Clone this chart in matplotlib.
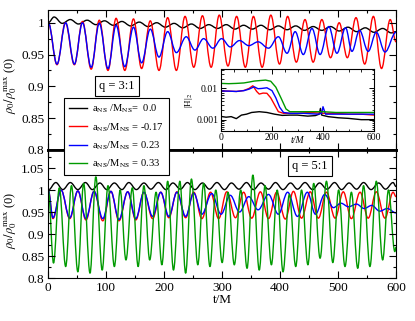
import matplotlib
matplotlib.use("Agg")
import matplotlib.pyplot as plt
from matplotlib.path import Path
from matplotlib.patches import PathPatch
from matplotlib.ticker import MultipleLocator, LogLocator, NullFormatter

plt.rcParams['font.family'] = ['Liberation Serif', 'DejaVu Serif']
plt.rcParams['mathtext.fontset'] = 'stix'

# ---------------- data (extrema of each curve) ----------------
# q = 3:1 panel
top_black_t = [0, 10, 24, 38, 52, 67, 82, 97, 112, 127, 142, 157, 172, 187, 202, 217, 232, 247, 262, 277,
               292, 307, 322, 337, 352, 367, 382, 397, 412, 427, 442, 457, 472, 487, 502, 517, 532, 547, 562, 577, 592, 600]
top_black_v = [1.0, 1.009, 0.999, 1.005, 0.998, 1.004, 0.997, 1.003, 0.996, 1.002, 0.995, 1.001, 0.994, 1.0, 0.993, 0.999,
               0.992, 0.998, 0.991, 0.997, 0.991, 0.997, 0.990, 0.996, 0.990, 0.996, 0.989, 0.995, 0.989, 0.995, 0.988, 0.994,
               0.988, 0.994, 0.987, 0.993, 0.986, 0.992, 0.985, 0.991, 0.984, 0.986]

top_red_t = [0, 15, 29.5, 45, 59, 74, 88, 103, 117, 132, 147, 161, 176, 191, 206, 221, 236, 251, 266, 281, 295, 310,
             325, 340, 354, 369, 384, 399, 413, 428, 443, 457, 472, 487, 502, 516, 531, 546, 561, 575, 590, 600]
top_red_v = [1.0, 0.934, 1.0, 0.934, 1.002, 0.927, 1.004, 0.925, 1.007, 0.925, 1.006, 0.928, 1.003, 0.925, 1.008, 0.925,
             1.010, 0.930, 1.011, 0.930, 1.012, 0.932, 1.010, 0.930, 1.010, 0.930, 1.012, 0.935, 1.010, 0.938, 1.005, 0.938,
             1.005, 0.945, 1.000, 0.945, 1.008, 0.935, 1.010, 0.928, 1.005, 0.970]

top_blue_t = [0, 15, 30, 45, 59, 74, 88, 103, 117, 132, 147, 161, 176, 191, 206, 221, 238, 253, 268, 284, 299, 314,
              330, 346, 362, 380, 397, 412, 426, 440, 455, 469, 484, 498, 513, 524, 537, 552, 566, 581, 600]
top_blue_v = [1.0, 0.935, 1.0, 0.935, 1.0, 0.930, 0.999, 0.928, 0.996, 0.931, 0.993, 0.937, 0.990, 0.946, 0.986, 0.953,
              0.978, 0.957, 0.975, 0.960, 0.975, 0.962, 0.972, 0.964, 0.970, 0.960, 0.978, 0.952, 0.986, 0.950, 0.991,
              0.950, 0.994, 0.952, 0.992, 0.955, 0.988, 0.955, 0.985, 0.954, 0.985]

# q = 5:1 panel
bot_black_t = [0, 13, 25, 38, 51, 64, 76, 89, 101, 114, 127, 139, 152, 165, 177, 190, 203, 215, 228, 240, 253, 266,
               278, 291, 304, 316, 329, 342, 354, 367, 380, 392, 405, 418, 430, 443, 456, 468, 481, 494, 506, 519,
               532, 544, 557, 570, 582, 595, 600]
bot_black_v = [1.0, 1.017, 1.001, 1.017, 1.001, 1.017, 1.001, 1.016, 1.001, 1.016, 1.001, 1.017, 1.001, 1.016, 1.002,
               1.017, 1.001, 1.016, 1.002, 1.017, 1.001, 1.016, 1.002, 1.017, 1.001, 1.016, 1.002, 1.017, 1.001, 1.016,
               1.002, 1.017, 1.001, 1.016, 1.002, 1.017, 1.001, 1.016, 1.002, 1.017, 1.001, 1.016, 1.002, 1.017, 1.001,
               1.016, 1.002, 1.017, 1.008]

bot_red_t = [0, 8, 22, 37, 51, 65, 79, 94, 108, 122, 137, 151, 165, 180, 194, 208, 222, 237, 251, 265, 280, 294, 308,
             323, 337, 351, 366, 380, 394, 409, 423, 437, 452, 466, 480, 495, 509, 523, 538, 552, 566, 581, 595, 600]
bot_red_v = [1.0, 0.935, 1.0, 0.935, 0.998, 0.932, 0.997, 0.930, 0.997, 0.930, 0.996, 0.932, 0.995, 0.935, 0.995, 0.937,
             0.996, 0.937, 0.995, 0.935, 0.995, 0.935, 0.996, 0.937, 0.995, 0.936, 0.996, 0.935, 0.995, 0.934, 0.997,
             0.936, 0.996, 0.936, 0.995, 0.936, 0.996, 0.935, 0.995, 0.936, 0.996, 0.936, 0.995, 0.985]

bot_blue_t = [0, 8, 22, 37, 51, 65, 79, 94, 108, 122, 137, 151, 165, 180, 194, 208, 222, 237, 251, 265, 282, 298, 314,
              330, 346, 362, 380, 397, 413, 430, 447, 461, 477, 492, 505, 518, 532, 545, 558, 572, 585, 600]
bot_blue_v = [1.0, 0.937, 1.0, 0.937, 0.998, 0.935, 0.997, 0.935, 0.997, 0.933, 0.996, 0.935, 0.995, 0.940, 0.995, 0.940,
              0.995, 0.940, 0.993, 0.945, 0.992, 0.945, 0.988, 0.950, 0.985, 0.955, 0.990, 0.945, 0.995, 0.940, 0.995,
              0.945, 0.990, 0.960, 0.970, 0.962, 0.968, 0.958, 0.965, 0.952, 0.958, 0.948]

bot_green_t = [0, 9, 19, 30, 40, 51, 61, 72, 82, 93, 103, 114, 124, 134, 145, 155, 165, 175, 186, 196, 206, 216, 227,
               237, 247, 258, 268, 279, 289, 300, 310, 321, 332, 343, 353, 364, 374, 385, 395, 405, 416, 427, 437, 448,
               458, 469, 480, 491, 501, 512, 523, 534, 544, 555, 566, 577, 587, 598, 600]
bot_green_v = [1.0, 0.834, 1.005, 0.826, 1.010, 0.814, 1.015, 0.811, 1.030, 0.818, 1.010, 0.826, 1.000, 0.841, 1.005,
               0.826, 1.010, 0.841, 0.995, 0.830, 1.020, 0.818, 1.020, 0.811, 1.025, 0.830, 1.015, 0.826, 1.000, 0.835,
               0.995, 0.830, 1.000, 0.822, 1.034, 0.818, 1.010, 0.830, 1.000, 0.814, 0.990, 0.826, 1.000, 0.830, 1.015,
               0.845, 1.020, 0.835, 1.000, 0.826, 0.995, 0.822, 1.010, 0.826, 1.020, 0.841, 1.000, 0.860, 0.870]

# inset: |H|_2 vs t/M (q = 5:1 runs)
ins_t_green = [0, 30, 60, 90, 110, 130, 150, 175, 195, 215, 235, 255, 270, 300, 350, 400, 450, 500, 550, 600]
ins_v_green = [0.0145, 0.0142, 0.0145, 0.0150, 0.0160, 0.0172, 0.0178, 0.0185, 0.0170, 0.0110, 0.0050, 0.0022, 0.0018,
               0.0018, 0.0018, 0.0018, 0.0017, 0.0017, 0.0017, 0.0017]
ins_t_blue = [0, 30, 60, 90, 110, 130, 145, 160, 180, 200, 215, 230, 245, 270, 320, 380, 395, 400, 410, 450, 500, 550, 600]
ins_v_blue = [0.0083, 0.0082, 0.0080, 0.0085, 0.0095, 0.0113, 0.0098, 0.0100, 0.0105, 0.0085, 0.0050, 0.0025, 0.0017,
              0.0016, 0.0016, 0.0015, 0.0016, 0.0026, 0.0015, 0.0015, 0.0015, 0.0015, 0.0015]
ins_t_red = [0, 30, 60, 90, 110, 125, 140, 150, 165, 180, 195, 210, 225, 245, 300, 350, 400, 450, 500, 550, 600]
ins_v_red = [0.0083, 0.0082, 0.0080, 0.0086, 0.0100, 0.0122, 0.0080, 0.0066, 0.0071, 0.0070, 0.0050, 0.0030, 0.0018,
             0.0016, 0.0016, 0.0017, 0.0016, 0.0016, 0.0015, 0.0015, 0.0014]
ins_t_black = [0, 20, 40, 60, 80, 100, 120, 150, 180, 210, 240, 270, 300, 340, 370, 385, 390, 395, 420, 460, 500, 550, 600]
ins_v_black = [0.00127, 0.00120, 0.00125, 0.00108, 0.00140, 0.00150, 0.00170, 0.00180, 0.00170, 0.00150, 0.00137, 0.00140,
               0.00140, 0.00130, 0.00135, 0.00150, 0.00230, 0.00140, 0.00125, 0.00115, 0.00110, 0.00100, 0.00100]

legend_labels = [r'a$_{\rm NS}$ /M$_{\rm NS}$=  0.0', r'a$_{\rm NS}$/M$_{\rm NS}$ = -0.17',
                 r'a$_{\rm NS}$/M$_{\rm NS}$ = 0.23', r'a$_{\rm NS}$/M$_{\rm NS}$ = 0.33']
colors = ['black', '#ff0000', '#0000ff', '#009a00']

# ---------------- figure ----------------
W, H = 415, 321
fig = plt.figure(figsize=(W / 100, H / 100), dpi=100)


def fr(x0, y0, x1, y1):
    return [x0 / W, 1 - y1 / H, (x1 - x0) / W, (y1 - y0) / H]


def smooth(ax, t, v, color, lw):
    """Smooth curve through the read extrema (flat tangents at each extremum)."""
    verts = [(t[0], v[0])]
    codes = [Path.MOVETO]
    for i in range(len(t) - 1):
        dt = t[i + 1] - t[i]
        verts += [(t[i] + 0.3642 * dt, v[i]), (t[i + 1] - 0.3642 * dt, v[i + 1]), (t[i + 1], v[i + 1])]
        codes += [Path.CURVE4] * 3
    ax.add_patch(PathPatch(Path(verts, codes), fill=False, edgecolor=color, lw=lw, capstyle='round',
                           joinstyle='round'))


ax1 = fig.add_axes(fr(48.3, 10, 396, 150))
ax2 = fig.add_axes(fr(48.3, 150, 396, 278))

lw = 1.0
smooth(ax1, top_black_t, top_black_v, colors[0], lw)
smooth(ax1, top_red_t, top_red_v, colors[1], lw)
smooth(ax1, top_blue_t, top_blue_v, colors[2], lw)

smooth(ax2, bot_black_t, bot_black_v, colors[0], lw)
smooth(ax2, bot_red_t, bot_red_v, colors[1], lw)
smooth(ax2, bot_blue_t, bot_blue_v, colors[2], lw)
smooth(ax2, bot_green_t, bot_green_v, colors[3], lw)

ax1.set_xlim(0, 600)
ax2.set_xlim(0, 600)
ax1.set_ylim(0.8, 1.020)
ax2.set_ylim(0.8, 1.091)

for ax in (ax1, ax2):
    ax.xaxis.set_major_locator(MultipleLocator(100))
    ax.xaxis.set_minor_locator(MultipleLocator(50))
    ax.yaxis.set_major_locator(MultipleLocator(0.05))
    ax.yaxis.set_minor_locator(MultipleLocator(0.025))
    ax.tick_params(which='both', direction='in', top=True, right=True, labelsize=9.5, pad=3)
    ax.tick_params(which='major', length=5, width=0.8)
    ax.tick_params(which='minor', length=2.5, width=0.8)

ax1.tick_params(labelbottom=False)
ax1.set_yticks([0.8, 0.85, 0.9, 0.95, 1.0])
ax1.set_yticklabels(['0.8', '0.85', '0.9', '0.95', '1'])
ax2.set_yticks([0.8, 0.85, 0.9, 0.95, 1.0, 1.05])
ax2.set_yticklabels(['0.8', '0.85', '0.9', '0.95', '1', '1.05'])
ax1.spines['bottom'].set_linewidth(2.0)
ax2.spines['top'].set_linewidth(2.0)

ax2.set_xlabel('t/M', fontsize=9.5, labelpad=0)
ylab = r'$\rho_0/\rho_0^{\rm max}$ (0)'
ax1.set_ylabel(ylab, fontsize=9)
ax2.set_ylabel(ylab, fontsize=9)
ax1.yaxis.set_label_coords(-0.083, 0.46)
ax2.yaxis.set_label_coords(-0.083, 0.45)

ax1.text((117 - 48.3) / (396 - 48.3), 1 - (86 - 10) / 140, 'q = 3:1', transform=ax1.transAxes,
         ha='center', va='center', fontsize=9,
         bbox=dict(boxstyle='square,pad=0.35', fc='white', ec='black', lw=0.8))
ax2.text((310 - 48.3) / (396 - 48.3), 1 - (166 - 150) / 128, 'q = 5:1', transform=ax2.transAxes,
         ha='center', va='center', fontsize=9,
         bbox=dict(boxstyle='square,pad=0.35', fc='white', ec='black', lw=0.8))

handles = [plt.Line2D([], [], color=c, lw=lw) for c in colors]
leg = fig.legend(handles, legend_labels, loc='upper left', bbox_to_anchor=(64 / W, 1 - 98 / H),
                 borderaxespad=0, fontsize=7.6, frameon=True, fancybox=False, edgecolor='black', framealpha=1,
                 handlelength=1.7, handletextpad=0.5, borderpad=0.45, labelspacing=0.55)
leg.get_frame().set_linewidth(0.8)

# inset
axi = fig.add_axes(fr(221, 69.3, 374, 130.5))
axi.semilogy(ins_t_black, ins_v_black, color=colors[0], lw=lw)
axi.semilogy(ins_t_red, ins_v_red, color=colors[1], lw=lw)
axi.semilogy(ins_t_blue, ins_v_blue, color=colors[2], lw=lw)
axi.semilogy(ins_t_green, ins_v_green, color=colors[3], lw=lw)
axi.set_xlim(0, 600)
axi.set_ylim(4.5e-4, 0.041)
axi.xaxis.set_major_locator(MultipleLocator(200))
axi.xaxis.set_minor_locator(MultipleLocator(50))
axi.set_yticks([0.001, 0.01])
axi.set_yticklabels(['0.001', '0.01'])
axi.yaxis.set_minor_locator(LogLocator(base=10, subs=range(2, 10)))
axi.yaxis.set_minor_formatter(NullFormatter())
axi.tick_params(which='both', direction='in', top=True, right=True, labelsize=7, pad=2)
axi.tick_params(which='major', length=3.5, width=0.7)
axi.tick_params(which='minor', length=1.8, width=0.6)
for s in axi.spines.values():
    s.set_linewidth(0.8)
axi.text(0.5, -0.16, 't/M', transform=axi.transAxes, ha='center', va='center', fontsize=7, style='italic')
axi.set_ylabel(r'|H|$_2$', fontsize=6.5, labelpad=1)

fig.savefig('out.png', dpi=100)
